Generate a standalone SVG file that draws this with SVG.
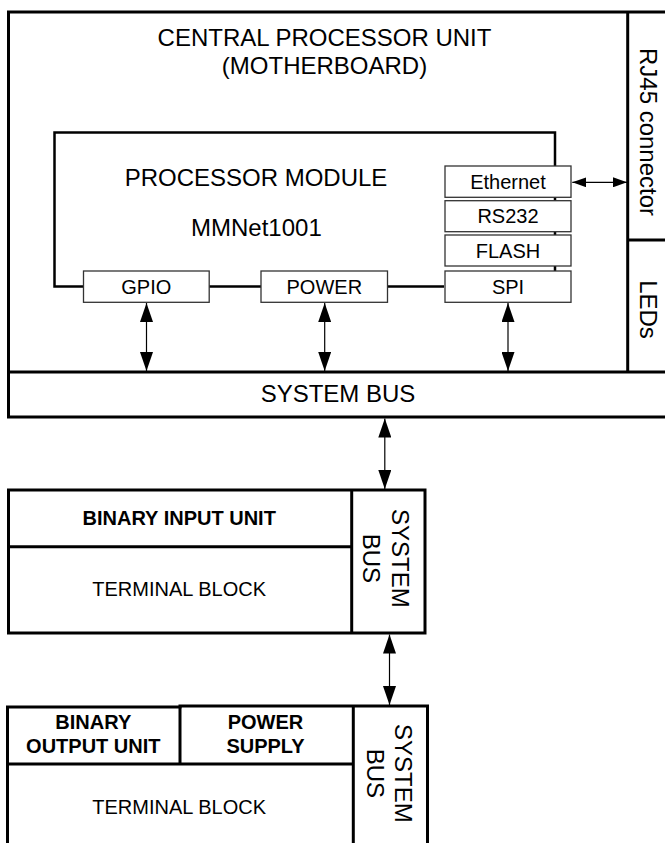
<svg xmlns="http://www.w3.org/2000/svg" width="665" height="843" viewBox="0 0 665 843">
<style>
text{font-family:"Liberation Sans",Arial,sans-serif;fill:#000}
.t24{font-size:24px;text-anchor:middle}
.t20{font-size:20px;text-anchor:middle}
.b20{font-size:20px;font-weight:bold;text-anchor:middle}
.heavy{fill:none;stroke:#000;stroke-width:3}
.mid{fill:none;stroke:#000;stroke-width:2.5}
.sb{fill:#fff;stroke:#333;stroke-width:1.3}
.arr{fill:none;stroke:#000;stroke-width:1.2}
</style>
<defs>
<marker id="ah" viewBox="0 0 19 13" refX="19" refY="6.5" markerWidth="19" markerHeight="13" markerUnits="userSpaceOnUse" orient="auto-start-reverse"><path d="M0,0 L19,6.5 L0,13 z" fill="#000"/></marker>
<marker id="ahs" viewBox="0 0 14 10" refX="14" refY="5" markerWidth="14" markerHeight="10" markerUnits="userSpaceOnUse" orient="auto-start-reverse"><path d="M0,0 L14,5 L0,10 z" fill="#000"/></marker>
</defs>
<rect width="665" height="843" fill="#fff"/>

<g id="cpu">
<path class="heavy" d="M668,12 H8.5 V417 H668"/>
<line class="heavy" x1="8.5" y1="372" x2="668" y2="372"/>
<line class="heavy" x1="627.7" y1="12" x2="627.7" y2="372"/>
<line class="heavy" x1="627.7" y1="240" x2="668" y2="240"/>
<text class="t24" x="324.5" y="46">CENTRAL PROCESSOR UNIT</text>
<text class="t24" x="324.5" y="74">(MOTHERBOARD)</text>
</g>

<g id="rj45">
<text class="t24" transform="translate(640,132) rotate(90)" x="0" y="0">RJ45 connector</text>
</g>
<g id="leds">
<text class="t24" transform="translate(640,309.5) rotate(90)" x="0" y="0">LEDs</text>
</g>
<g id="systembus">
<text class="t24" x="338" y="402">SYSTEM BUS</text>
</g>

<g id="processor-module">
<path class="mid" d="M555,271 V132.5 H54.5 V286.5 H444"/>
<text class="t24" x="256" y="186">PROCESSOR MODULE</text>
<text class="t24" x="256.4" y="236">MMNet1001</text>
</g>

<g id="ethernet"><rect class="sb" x="445" y="166" width="126" height="31.3"/><text class="t20" x="508" y="188.5">Ethernet</text></g>
<g id="rs232"><rect class="sb" x="445" y="200.7" width="126" height="31"/><text class="t20" x="508" y="223">RS232</text></g>
<g id="flash"><rect class="sb" x="445" y="235" width="126" height="31"/><text class="t20" x="508" y="257.5">FLASH</text></g>
<g id="spi"><rect class="sb" x="445" y="271" width="126" height="31.3"/><text class="t20" x="508" y="293.5">SPI</text></g>
<g id="gpio"><rect class="sb" x="83.5" y="271" width="125.7" height="31.3"/><text class="t20" x="146.3" y="293.5">GPIO</text></g>
<g id="power"><rect class="sb" x="261" y="271" width="126.5" height="31.3"/><text class="t20" x="324.3" y="293.5">POWER</text></g>

<g id="binary-input">
<rect class="heavy" x="8.5" y="490" width="416.5" height="143"/>
<line class="heavy" x1="351.7" y1="490" x2="351.7" y2="633"/>
<line class="heavy" x1="8.5" y1="546.7" x2="351.7" y2="546.7"/>
<text class="b20" x="179.2" y="525">BINARY INPUT UNIT</text>
<text class="t20" x="179.2" y="596">TERMINAL BLOCK</text>
<text class="t24" transform="translate(391.7,558.3) rotate(90)">SYSTEM</text>
<text class="t24" transform="translate(363,558.3) rotate(90)">BUS</text>
</g>

<g id="binary-output">
<path class="heavy" d="M7.5,848 V707 H180 V706 H427.5 V848"/>
<line class="heavy" x1="180" y1="706" x2="180" y2="764"/>
<line class="heavy" x1="353.3" y1="706" x2="353.3" y2="848"/>
<line class="heavy" x1="7.5" y1="764" x2="353.3" y2="764"/>
<text class="b20" x="93.3" y="729.3">BINARY</text>
<text class="b20" x="93.3" y="753.3">OUTPUT UNIT</text>
<text class="b20" x="265.5" y="729.3">POWER</text>
<text class="b20" x="265.5" y="753.3">SUPPLY</text>
<text class="t20" x="179.2" y="814.3">TERMINAL BLOCK</text>
<text class="t24" transform="translate(395,773.3) rotate(90)">SYSTEM</text>
<text class="t24" transform="translate(366.7,773.3) rotate(90)">BUS</text>
</g>

<g id="connectors">
<line class="arr" x1="146.5" y1="303" x2="146.5" y2="371" marker-start="url(#ah)" marker-end="url(#ah)"/>
<line class="arr" x1="324.7" y1="303" x2="324.7" y2="371" marker-start="url(#ah)" marker-end="url(#ah)"/>
<line class="arr" x1="508" y1="303" x2="508" y2="371" marker-start="url(#ah)" marker-end="url(#ah)"/>
<line class="arr" x1="572.3" y1="182.3" x2="627" y2="182.3" marker-start="url(#ahs)" marker-end="url(#ahs)"/>
<line class="arr" x1="384.8" y1="418.5" x2="384.8" y2="489" marker-start="url(#ah)" marker-end="url(#ah)"/>
<line class="arr" x1="389.5" y1="634.5" x2="389.5" y2="705" marker-start="url(#ah)" marker-end="url(#ah)"/>
</g>
</svg>
